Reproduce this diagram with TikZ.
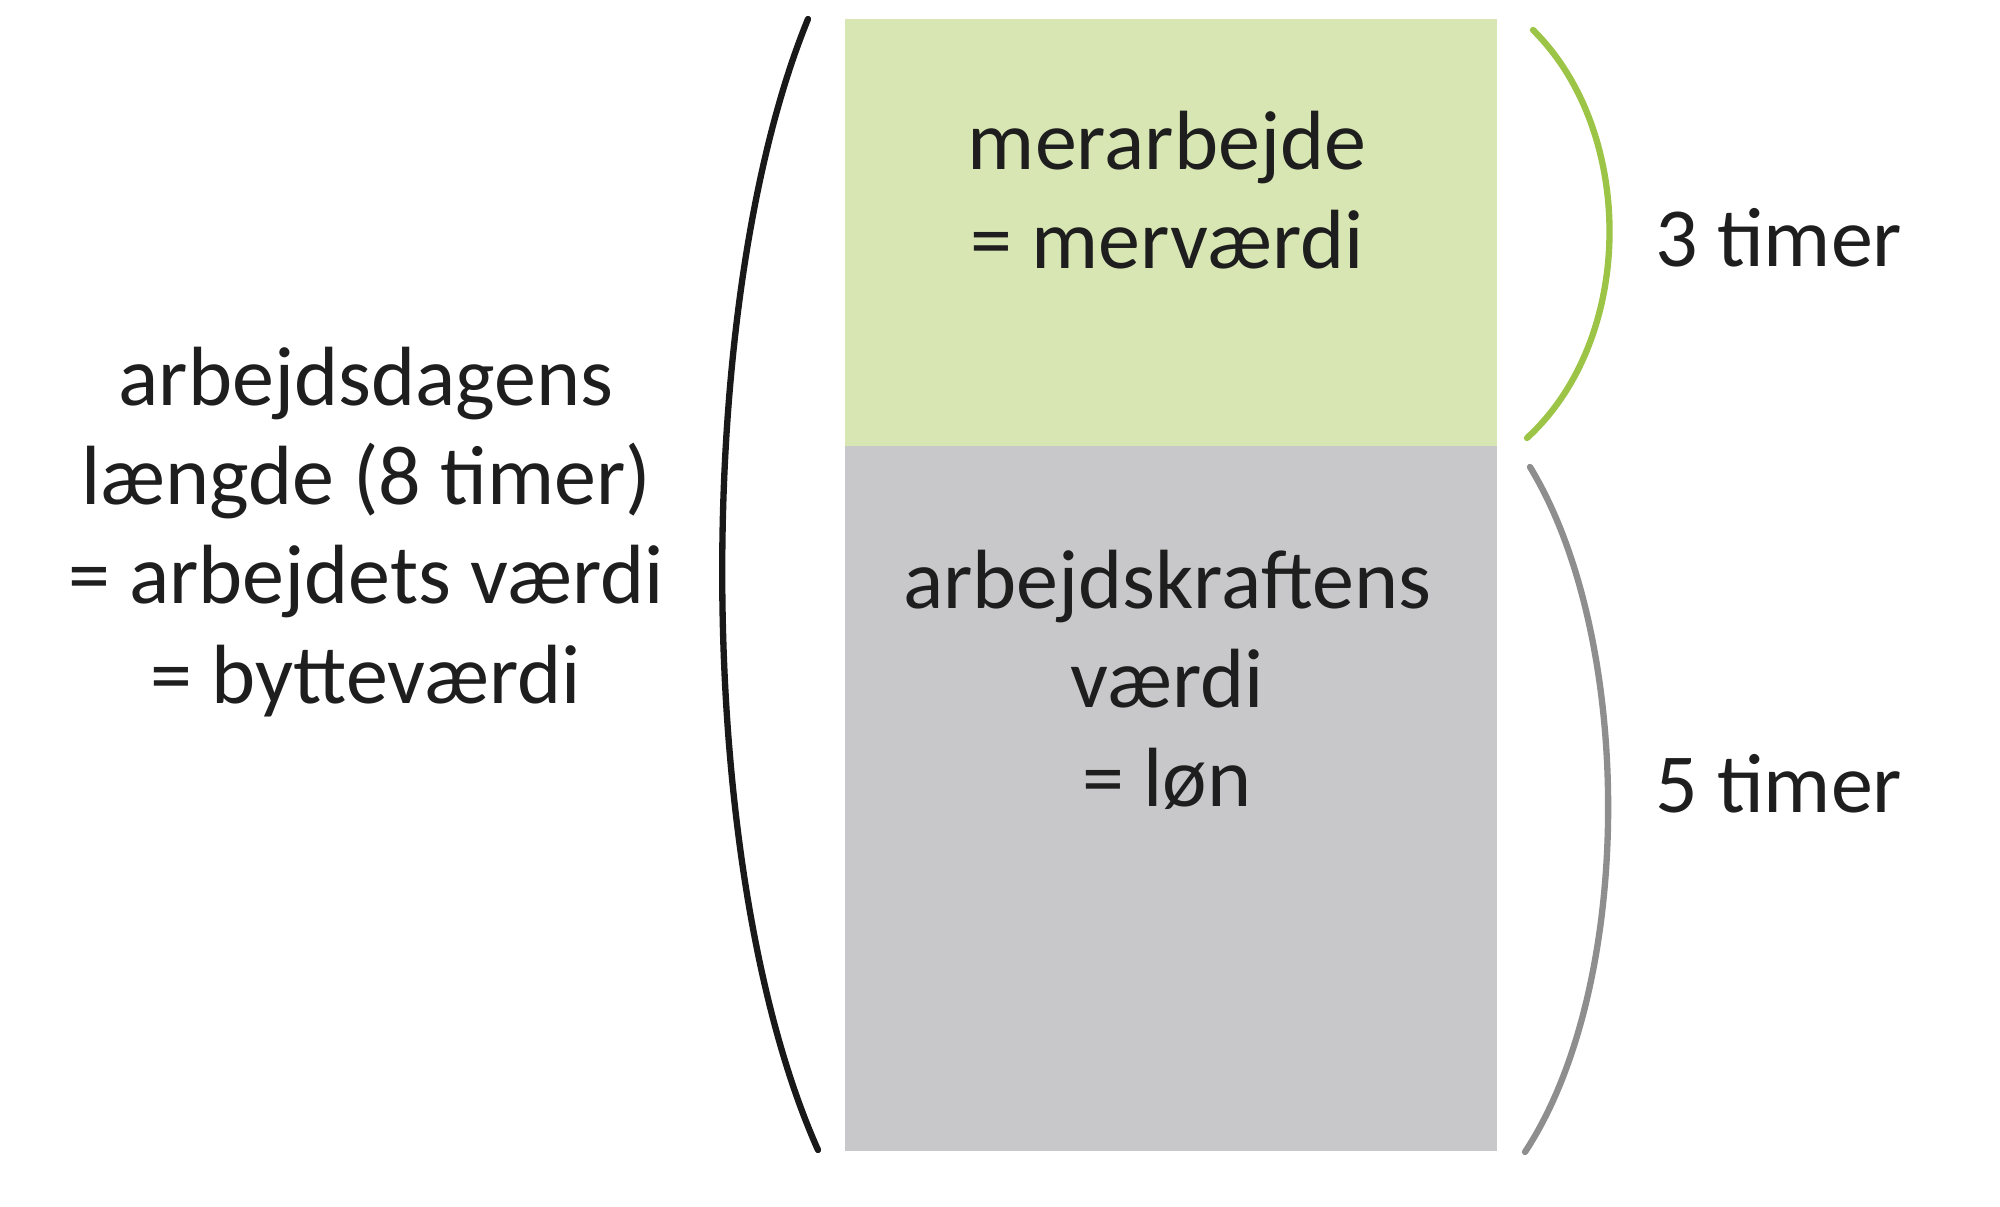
\documentclass[tikz,border=0pt]{standalone}
\usepackage{fontspec}
\setmainfont{Carlito}
\usetikzlibrary{positioning}

\definecolor{surplusgreen}{HTML}{D8E6B3}
\definecolor{wagegray}{HTML}{C8C8CA}
\definecolor{bracegreen}{HTML}{9CC446}
\definecolor{bracegray}{HTML}{8E8E8E}
\definecolor{textdark}{HTML}{1E1E1E}

\begin{document}
\begin{tikzpicture}[x=0.01cm, y=-0.01cm,
		box/.style={rectangle, inner sep=0pt, minimum width=6.52cm},
		lbl/.style={align=center, text=textdark, font=\fontsize{23.9}{28.2}\selectfont},
		brace/.style={line width=1.8pt, line cap=round}]
			\useasboundingbox (0,0) rectangle (2000,1207);
			\node (surplus) at (1171,232.5) [box, fill=surplusgreen, minimum height=4.27cm] {};
			\node (wage) at (1171,798.5) [box, fill=wagegray, minimum height=7.05cm] {};
			
			\node (surplustxt) at (1167,190) [lbl] {merarbejde\\= merværdi};
			\node (wagetxt) at (1167,680) [lbl] {arbejdskraftens\\værdi\\= løn};
			\node (daytxt) at (366,532) [lbl] {arbejdsdagens\\længde (8 timer)\\= arbejdets værdi\\= bytteværdi};
			\node (three) at (1643,267) [lbl, anchor=base west] {3 timer};
			\node (five) at (1643,813) [lbl, anchor=base west] {5 timer};
			
			% braces
			\coordinate (daytop) at (808,19);
			\coordinate (daybot) at (818,1150);
			\coordinate (threetop) at (1533,30);
			\coordinate (threebot) at (1527,438);
			\coordinate (fivetop) at (1530,467);
			\coordinate (fivebot) at (1525,1152);
			
			\draw [brace, black!90] (daytop) .. controls (692,302) and (692,868) .. (daybot);
			\draw [brace, bracegreen] (threetop) .. controls (1636,132) and (1636,338) .. (threebot);
			\draw [brace, bracegray] (fivetop) .. controls (1635,640) and (1635,985) .. (fivebot);
		\end{tikzpicture}
\end{document}
